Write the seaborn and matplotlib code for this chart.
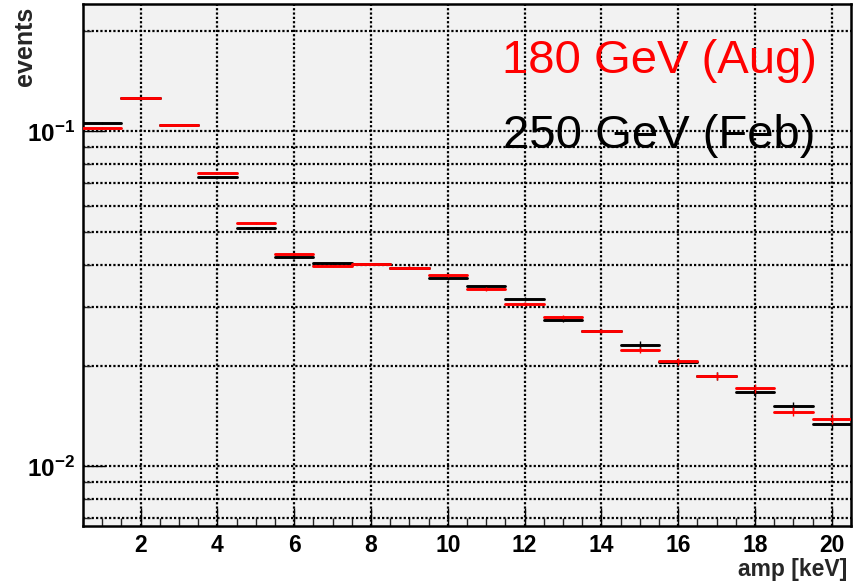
import numpy as np
import pandas as pd
import matplotlib
matplotlib.use("Agg")
import matplotlib.pyplot as plt
import seaborn as sns
from matplotlib.ticker import FixedLocator, NullFormatter

# ---- data -----------------------------------------------------------
bins = list(range(1, 21))                      # bin centres [keV], width 1
feb_250 = [0.1058, 0.1257, 0.1043, 0.0731, 0.0514, 0.04229, 0.04043, 0.04022,
           0.03922, 0.03646, 0.03451, 0.03155, 0.02732, 0.02538, 0.02306,
           0.02046, 0.01860, 0.01665, 0.01513, 0.01339]
aug_180 = [0.1026, 0.1257, 0.1043, 0.0753, 0.0534, 0.04307, 0.03968, 0.04022,
           0.03922, 0.03723, 0.03388, 0.03049, 0.02801, 0.02538, 0.02228,
           0.02065, 0.01868, 0.01712, 0.01457, 0.01386]
feb_err = [0.0006, 0.0007, 0.0006, 0.0005, 0.0004, 0.0004, 0.0004, 0.0004,
           0.0004, 0.0004, 0.0004, 0.0004, 0.0004, 0.0004, 0.0006, 0.0005,
           0.0005, 0.0005, 0.00047, 0.00047]
aug_err = [0.0006, 0.0007, 0.0006, 0.0005, 0.0004, 0.0004, 0.0004, 0.0004,
           0.0004, 0.0004, 0.0004, 0.0004, 0.0004, 0.0004, 0.0005, 0.0005,
           0.0005, 0.0005, 0.00045, 0.00045]
series_labels = ["250 GeV (Feb)", "180 GeV (Aug)"]
x_ticks = [2, 4, 6, 8, 10, 12, 14, 16, 18, 20]
y_ticks = [0.01, 0.1]
y_tick_labels = [r"$\mathbf{10^{-2}}$", r"$\mathbf{10^{-1}}$"]
x_label = "amp [keV]"
y_label = "events"

# ---- style ----------------------------------------------------------
sns.set_theme(style="ticks")
plt.rcParams["font.family"] = ["Liberation Sans", "DejaVu Sans"]
plt.rcParams["mathtext.fontset"] = "custom"
plt.rcParams["mathtext.bf"] = "Liberation Sans:bold"
plt.rcParams["mathtext.rm"] = "Liberation Sans"
plt.rcParams["mathtext.it"] = "Liberation Sans:italic"

W, H = 855, 584
fig = plt.figure(figsize=(W / 100, H / 100), dpi=100)
fig.patch.set_facecolor("white")
ax = fig.add_axes([83 / W, 1 - 526 / H, (851 - 83) / W, (526 - 4) / H])
ax.set_facecolor("#f2f2f2")
ax.set_yscale("log")


def long_df(values, name):
    rows = []
    for b, v in zip(bins, values):
        rows.append({"x": b - 0.5, "y": v, "unit": b, "beam": name})
        rows.append({"x": b + 0.5, "y": v, "unit": b, "beam": name})
    return pd.DataFrame(rows)


colors = {series_labels[0]: "black", series_labels[1]: "#ff0000"}
for vals, errs, name in [(feb_250, feb_err, series_labels[0]),
                         (aug_180, aug_err, series_labels[1])]:
    df = long_df(vals, name)
    sns.lineplot(data=df, x="x", y="y", units="unit", estimator=None,
                 color=colors[name], linewidth=2.1, sort=False,
                 legend=False, ax=ax, zorder=3)
    ax.errorbar(bins, vals, yerr=errs, fmt="none", ecolor=colors[name],
                elinewidth=1.0, capsize=0, zorder=3)

ax.set_xlim(0.5, 20.5)
ax.set_ylim(0.006643, 0.2402)

# ticks
ax.xaxis.set_major_locator(FixedLocator(x_ticks))
ax.xaxis.set_minor_locator(FixedLocator(np.arange(0.5, 20.51, 0.5)))
ax.set_xticklabels([str(t) for t in x_ticks], fontweight="bold", fontsize=16.5)
ax.yaxis.set_major_locator(FixedLocator(y_ticks))
minor_y = [m * 10.0 ** e for e in (-3, -2, -1) for m in range(2, 10)]
ax.yaxis.set_minor_locator(FixedLocator(minor_y))
ax.yaxis.set_minor_formatter(NullFormatter())
ax.set_yticklabels(y_tick_labels, fontsize=17.5)

ax.tick_params(axis="x", which="major", direction="in", length=13, width=1.0,
               pad=5.5, colors="black", top=False)
ax.tick_params(axis="x", which="minor", direction="in", length=5.8, width=1.0,
               top=False)
ax.tick_params(axis="y", which="major", direction="in", length=16, width=1.0,
               pad=5.5, colors="black", right=False)
ax.tick_params(axis="y", which="minor", direction="in", length=5.8, width=1.0,
               right=False)

# grid
grid_kw = dict(color="black", linestyle=(0, (1, 0.95)), linewidth=1.6)
ax.grid(True, which="major", axis="x", **grid_kw)
ax.grid(True, which="both", axis="y", **grid_kw)
ax.set_axisbelow(True)

for s in ax.spines.values():
    s.set_linewidth(1.8)
    s.set_color("black")

ax.set_xlabel("")
ax.set_ylabel("")

# axis titles (ROOT style placement)
fig.text(847 / W, 1 - 576 / H, x_label, ha="right", va="baseline",
         fontsize=16.5, fontweight="bold")
fig.text(13 / W, 1 - 7 / H, y_label, ha="right", va="top", rotation=90,
         fontsize=18, fontweight="bold", rotation_mode="anchor")

# legend-like labels
fig.text(502 / W, 1 - 73 / H, series_labels[1], color="#ff0000",
         fontsize=34, ha="left", va="baseline")
fig.text(503 / W, 1 - 148 / H, series_labels[0], color="black",
         fontsize=34, ha="left", va="baseline")

fig.savefig("out.png", dpi=100)
